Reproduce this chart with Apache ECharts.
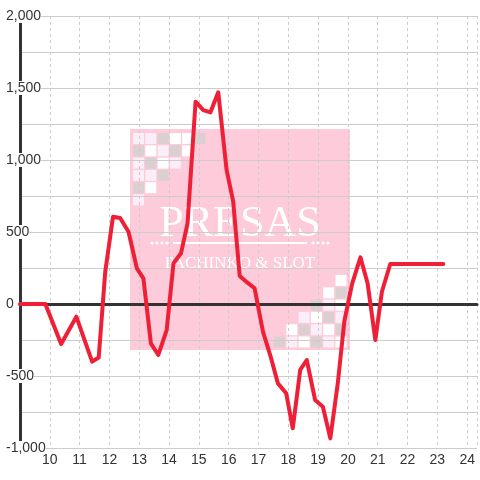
<!DOCTYPE html>
<html><head><meta charset="utf-8">
<script src="https://cdn.jsdelivr.net/npm/echarts@6/dist/echarts.min.js"></script>
<style>html,body{margin:0;padding:0;background:#fff}#c{width:480px;height:480px}</style>
</head><body><div id="c"></div>
<script>
// ---- data (hour of day, value) ----
const hours = [9.0, 9.85, 10.38, 10.89, 11.42, 11.64, 11.86, 12.12, 12.36, 12.64, 12.92, 13.14, 13.39, 13.64, 13.92, 14.15, 14.4, 14.62, 14.89, 15.15, 15.39, 15.65, 15.93, 16.15, 16.37, 16.62, 16.87, 17.15, 17.4, 17.65, 17.93, 18.15, 18.4, 18.62, 18.9, 19.16, 19.41, 19.66, 19.88, 20.14, 20.42, 20.66, 20.92, 21.14, 21.42, 23.2];
const values = [0, 0, -278, -88, -400, -372, 225, 606, 597, 502, 248, 178, -273, -354, -181, 283, 352, 560, 1405, 1347, 1331, 1470, 931, 715, 195, 150, 109, -192, -360, -551, -620, -863, -458, -389, -667, -713, -933, -551, -120, 140, 324, 144, -250, 85, 278, 278];
const xTickLabels = [10, 11, 12, 13, 14, 15, 16, 17, 18, 19, 20, 21, 22, 23, 24];
const yLabelStep = 500;

const seriesData = hours.map((h, i) => [h, values[i]]);

// ---- decorative watermark ----
const W = '#ffffff', L = '#fbeef8', G = '#dccfd2';
const tlPattern = [[L, L, G, W, W, G], [G, W, L, G, W], [L, G, W, L], [L, L, G], [G, W], [L]];
const brPattern = [[null, null, null, null, null, W], [null, null, null, null, W, G], [null, null, null, G, L, W],
  [null, null, L, W, G, L], [null, W, G, L, W, G], [G, L, W, G, L, W]];
const pitch = 12.3, cell = 11;
const deco = [];
deco.push({ type: 'rect', z: -10, shape: { x: 130, y: 129, width: 220, height: 221 }, style: { fill: '#fdcbd9' }, silent: true });
tlPattern.forEach((row, r) => row.forEach((c, k) => {
  deco.push({ type: 'rect', z: -9, shape: { x: 133 + k * pitch, y: 133 + r * pitch, width: cell, height: cell }, style: { fill: c }, silent: true });
}));
brPattern.forEach((row, r) => row.forEach((c, k) => {
  if (!c) return;
  deco.push({ type: 'rect', z: -9, shape: { x: 274 + k * pitch, y: 275 + r * pitch, width: cell, height: cell }, style: { fill: c }, silent: true });
}));
deco.push({ type: 'text', z: -8, x: 240, y: 224, silent: true,
  style: { text: 'PRESAS', fill: '#fff', font: '44px "Liberation Serif", serif', align: 'center', verticalAlign: 'middle' } });
deco.push({ type: 'rect', z: -8, shape: { x: 173, y: 242, width: 134, height: 2 }, style: { fill: '#fff' }, silent: true });
[152, 157, 162, 167, 313, 318, 323, 328].forEach(x => {
  deco.push({ type: 'circle', z: -8, shape: { cx: x, cy: 243, r: 1.6 }, style: { fill: '#fff' }, silent: true });
});
deco.push({ type: 'text', z: -8, x: 240, y: 264, silent: true,
  style: { text: 'PACHINKO & SLOT', fill: '#fff', font: '17px "Liberation Serif", serif', align: 'center', verticalAlign: 'middle' } });

const fmt = v => Math.abs(v).toLocaleString('en-US');

const chart = echarts.init(document.getElementById('c'), null, { renderer: 'canvas' });
chart.setOption({
  animation: false,
  backgroundColor: '#fff',
  graphic: { elements: deco },
  grid: { left: 20, right: 0, top: 16, bottom: 32, containLabel: false },
  xAxis: [{
    type: 'value', min: 9, max: 24.33, interval: 1, position: 'bottom',
    axisLine: { show: false, onZero: false },
    axisTick: { show: false },
    axisLabel: {
      margin: 5, fontSize: 14, color: '#333', fontFamily: 'Liberation Sans, Arial, sans-serif',
      formatter: v => xTickLabels.indexOf(v) >= 0 ? String(v) : ''
    },
    splitLine: { show: true, lineStyle: { color: '#cccccc', type: [3, 3], width: 1 } }
  }, {
    type: 'value', min: 9, max: 24.33, position: 'bottom',
    axisLine: { show: true, onZero: true, lineStyle: { color: '#333', width: 3 } },
    axisTick: { show: false }, axisLabel: { show: false }, splitLine: { show: false }
  }],
  yAxis: {
    type: 'value', min: -1000, max: 2000, interval: 250,
    axisLine: { show: true, onZero: false, lineStyle: { color: '#333', width: 3 } },
    axisTick: { show: false },
    axisLabel: {
      align: 'left', margin: 14, fontSize: 14, color: '#333', backgroundColor: '#fff',
      fontFamily: 'Liberation Sans, Arial, sans-serif',
      formatter: v => (v % yLabelStep === 0) ? (v < 0 ? '-' : '') + fmt(v) : ''
    },
    splitLine: { show: true, lineStyle: { color: '#cccccc', width: 1 } }
  },
  series: [{
    type: 'line', xAxisIndex: 0, data: seriesData, showSymbol: false, symbol: 'none',
    lineStyle: { color: '#ee1f36', width: 4, join: 'round', cap: 'round' }, z: 5
  }]
});
</script></body></html>
